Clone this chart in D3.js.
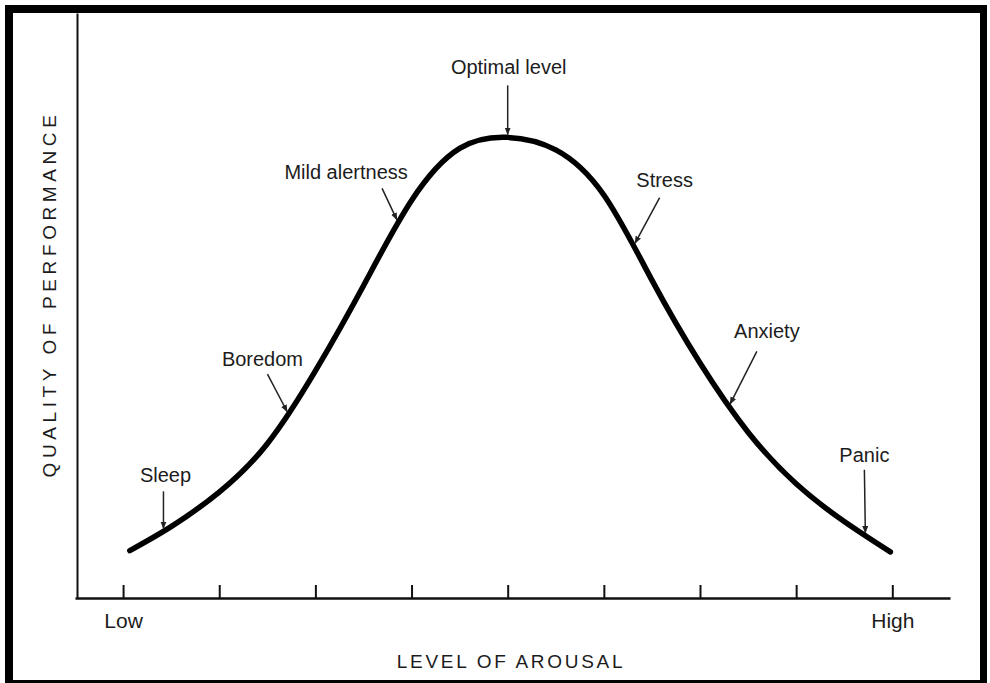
<!DOCTYPE html>
<html>
<head>
<meta charset="utf-8">
<script src="https://cdn.jsdelivr.net/npm/d3@7"></script>
<style>
  body { margin: 0; background: #fff; }
  text { font-family: "Liberation Sans", Arial, sans-serif; fill: #1c1c1c; }
</style>
</head>
<body>
<script>
// curve: arousal (tick units, 0 = Low, 8 = High), performance (% of peak)
var arousal = [0.07, 0.5, 1.0, 1.5, 2.0, 2.5, 3.0, 3.5, 4.0, 4.5, 5.0, 5.5, 6.0, 6.5, 7.0, 7.5, 7.98]
var performance = [10.3, 15.5, 23.0, 33.5, 49.3, 67.8, 86.3, 97.6, 100, 97.3, 87.5, 69.0, 51.0, 36.0, 24.8, 16.6, 10.0]

var tickValues = [0, 1, 2, 3, 4, 5, 6, 7, 8]
var tickLabels = {0: "Low", 8: "High"}

var stateNames = ["Sleep", "Boredom", "Mild alertness", "Optimal level", "Stress", "Anxiety", "Panic"]
var stateArousal = [0.42, 1.72, 2.86, 4.0, 5.31, 6.30, 7.72]

var xTitle = "LEVEL OF AROUSAL"
var yTitle = "QUALITY OF PERFORMANCE"

// label placement relative to the arrow tip (pixels)
var labelLayout = {
  "Sleep":          {tx: 0,   ty: -40, lx: 2,   ly: -49},
  "Boredom":        {tx: -21, ty: -40, lx: -26, ly: -48},
  "Mild alertness": {tx: -16, ty: -34, lx: -52, ly: -43},
  "Optimal level":  {tx: 0,   ty: -52, lx: 1,   ly: -63},
  "Stress":         {tx: 26,  ty: -48, lx: 31,  ly: -59},
  "Anxiety":        {tx: 28,  ty: -55, lx: 38,  ly: -68},
  "Panic":          {tx: -1,  ty: -66, lx: -1,  ly: -74}
}

var width = 990
var height = 683

var svg = d3.select("body")
            .append("svg")
            .attr("width", width)
            .attr("height", height)

/////////////////////////////
// black frame
svg.append("rect").attr("x", 0).attr("y", 0).attr("width", width).attr("height", height).attr("fill", "#fff")
svg.append("rect").attr("x", 5).attr("y", 5).attr("width", 982).attr("height", 8).attr("fill", "#000")
svg.append("rect").attr("x", 5).attr("y", 5).attr("width", 8).attr("height", 678).attr("fill", "#000")
svg.append("rect").attr("x", 980).attr("y", 5).attr("width", 7).attr("height", 678).attr("fill", "#000")
svg.append("rect").attr("x", 5).attr("y", 680).attr("width", 982).attr("height", 3).attr("fill", "#000")

var xScale = d3.scaleLinear()
               .domain([-0.5, 8.6])
               .range([75, 950])

var yScale = d3.scaleLinear()
               .domain([0, 127])
               .range([598, 13])

/////////////////////////////
// axes
var xAxis = d3.axisBottom(xScale)
              .tickValues(tickValues)
              .tickSizeInner(-13)
              .tickSizeOuter(0)
              .tickPadding(15)
              .tickFormat(function(d) { return tickLabels[d] || ""; })

var gx = svg.append("g")
            .attr("transform", "translate(0," + yScale(0) + ")")
            .call(xAxis)
gx.select(".domain").attr("stroke", "#111").attr("stroke-width", 2.5)
gx.selectAll(".tick line").attr("stroke", "#111").attr("stroke-width", 2)
gx.selectAll(".tick text")
  .style("font-size", "21px")
  .style("font-family", "'Liberation Sans', Arial, sans-serif")
  .attr("fill", "#1c1c1c")

var yAxis = d3.axisLeft(yScale)
              .tickValues([])
              .tickSizeOuter(0)

var gy = svg.append("g")
            .attr("transform", "translate(77,0)")
            .call(yAxis)
gy.select(".domain").attr("stroke", "#111").attr("stroke-width", 2)

svg.append("text")
   .attr("x", 511)
   .attr("y", 668)
   .attr("text-anchor", "middle")
   .style("font-size", "19px")
   .style("letter-spacing", "2.7px")
   .text(xTitle)

svg.append("text")
   .attr("transform", "translate(56,294) rotate(-90)")
   .attr("text-anchor", "middle")
   .style("font-size", "19px")
   .style("letter-spacing", "4.6px")
   .text(yTitle)

/////////////////////////////
// the curve
var curveData = arousal.map(function(d, i) { return {x: d, y: performance[i]}; })

var line = d3.line()
             .x(function(d) { return xScale(d.x); })
             .y(function(d) { return yScale(d.y); })
             .curve(d3.curveNatural)

var curvePath = svg.append("path")
                   .datum(curveData)
                   .attr("d", line)
                   .attr("fill", "none")
                   .attr("stroke", "#000")
                   .attr("stroke-width", 5.5)
                   .attr("stroke-linecap", "round")

// find the y of the drawn curve at a given x pixel
var node = curvePath.node()
var total = node.getTotalLength()
var curveYAt = function(px) {
  var lo = 0, hi = total
  for (var k = 0; k < 40; k++) {
    var mid = (lo + hi) / 2
    if (node.getPointAtLength(mid).x < px) lo = mid
    else hi = mid
  }
  return node.getPointAtLength(lo).y
}

/////////////////////////////
// annotations
var states = stateNames.map(function(d, i) {
  var px = xScale(stateArousal[i])
  return {name: d, x: px, y: curveYAt(px), lay: labelLayout[d]}
})

svg.append("defs")
   .append("marker")
   .attr("id", "head")
   .attr("viewBox", "0 0 10 10")
   .attr("refX", 9)
   .attr("refY", 5)
   .attr("markerWidth", 5)
   .attr("markerHeight", 5)
   .attr("orient", "auto")
   .append("path")
   .attr("d", "M0,1 L10,5 L0,9 Z")
   .attr("fill", "#222")

var ann = svg.append("g")
             .selectAll("g")
             .data(states)
             .enter()
             .append("g")

ann.append("line")
   .attr("x1", function(d) { return d.x + d.lay.tx; })
   .attr("y1", function(d) { return d.y + d.lay.ty; })
   .attr("x2", function(d) {
     var len = Math.sqrt(d.lay.tx * d.lay.tx + d.lay.ty * d.lay.ty)
     return d.x + d.lay.tx * 3 / len;
   })
   .attr("y2", function(d) {
     var len = Math.sqrt(d.lay.tx * d.lay.tx + d.lay.ty * d.lay.ty)
     return d.y + d.lay.ty * 3 / len;
   })
   .attr("stroke", "#222")
   .attr("stroke-width", 1.5)
   .attr("marker-end", "url(#head)")

ann.append("text")
   .attr("x", function(d) { return d.x + d.lay.lx; })
   .attr("y", function(d) { return d.y + d.lay.ly; })
   .attr("text-anchor", "middle")
   .style("font-size", "20px")
   .text(function(d) { return d.name; })
</script>
</body>
</html>
